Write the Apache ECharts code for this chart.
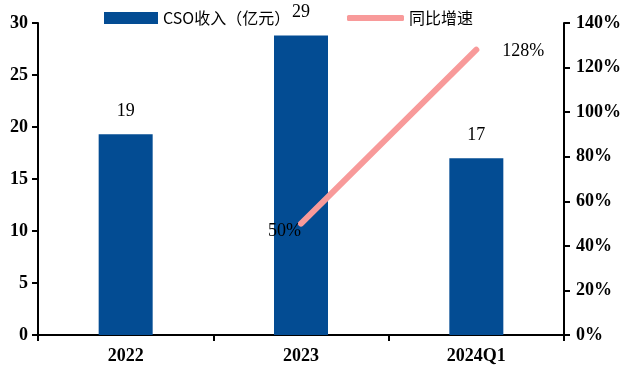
<!DOCTYPE html>
<html>
<head>
<meta charset="utf-8">
<script src="https://cdn.jsdelivr.net/npm/echarts@6/dist/echarts.min.js"></script>
<style>
  html, body { margin: 0; padding: 0; background: #fff; }
  #chart { width: 624px; height: 374px; }
</style>
</head>
<body>
<div id="chart"></div>
<script>
// Periods on the category axis
const categories = ['2022', '2023', '2024Q1'];
// CSO revenue, 100 million yuan
const revenue = [19.3, 28.8, 17.0];
// Year-on-year growth, percent (no figure for the first period)
const growth = [null, 50, 128];
// Tick settings for both value axes
const leftAxisMax = 30, leftAxisStep = 5;
const rightAxisMax = 140, rightAxisStep = 20;

const barName = 'CSO收入（亿元）';
const lineName = '同比增速';
const barColor = '#034C93';
const lineColor = '#F89A9A';
const serif = '"Liberation Serif", "Times New Roman", serif';
const cjk = '"Noto Sans CJK SC", sans-serif';

const axisLine = { show: true, lineStyle: { color: '#000', width: 2 } };
const axisTick = { show: true, length: 6, lineStyle: { color: '#000', width: 2 } };
const axisLabel = { color: '#000', fontFamily: serif, fontWeight: 'bold', fontSize: 18 };

const growthData = growth.map((v, i) => {
  if (v == null) return null;
  const last = i === growth.length - 1;
  return {
    value: v,
    label: last
      ? { position: 'right', distance: 26, offset: [0, 2] }
      : { position: 'left', distance: 0, offset: [0, 8] }
  };
});

const chart = echarts.init(document.getElementById('chart'), null, { renderer: 'canvas' });
chart.setOption({
  animation: false,
  backgroundColor: '#fff',
  grid: { left: 38, right: 59, top: 23, bottom: 39 },
  legend: [
    {
      data: [barName],
      left: 99, top: 5,
      itemWidth: 54, itemHeight: 12, itemGap: 5,
      icon: 'rect',
      textStyle: { fontFamily: cjk, fontSize: 16, color: '#000' }
    },
    {
      data: [{ name: lineName, itemStyle: { color: lineColor } }],
      left: 342, top: 5,
      itemWidth: 57, itemHeight: 6, itemGap: 5,
      icon: 'roundRect',
      textStyle: { fontFamily: cjk, fontSize: 16, color: '#000' }
    }
  ],
  xAxis: {
    type: 'category',
    data: categories,
    axisLine: axisLine,
    axisTick: Object.assign({ alignWithLabel: false }, axisTick),
    axisLabel: Object.assign({ margin: 12 }, axisLabel),
    splitLine: { show: false }
  },
  yAxis: [
    {
      type: 'value',
      min: 0, max: leftAxisMax, interval: leftAxisStep,
      axisLine: axisLine,
      axisTick: axisTick,
      axisLabel: Object.assign({ margin: 10 }, axisLabel),
      splitLine: { show: false }
    },
    {
      type: 'value',
      position: 'right',
      min: 0, max: rightAxisMax, interval: rightAxisStep,
      axisLine: axisLine,
      axisTick: axisTick,
      axisLabel: Object.assign({ margin: 12, formatter: '{value}%' }, axisLabel),
      splitLine: { show: false }
    }
  ],
  series: [
    {
      name: barName,
      type: 'bar',
      data: revenue,
      barWidth: 54,
      itemStyle: { color: barColor },
      label: {
        show: true,
        position: 'top',
        distance: 14,
        color: '#000',
        fontFamily: serif,
        fontSize: 18,
        formatter: p => Math.round(p.value)
      }
    },
    {
      name: lineName,
      type: 'line',
      yAxisIndex: 1,
      data: growthData,
      symbol: 'circle',
      symbolSize: 0.01,
      showSymbol: true,
      connectNulls: false,
      itemStyle: { color: lineColor },
      lineStyle: { color: lineColor, width: 6, cap: 'round' },
      label: {
        show: true,
        color: '#000',
        fontFamily: serif,
        fontSize: 18,
        formatter: p => p.value + '%'
      }
    }
  ]
});
</script>
</body>
</html>
